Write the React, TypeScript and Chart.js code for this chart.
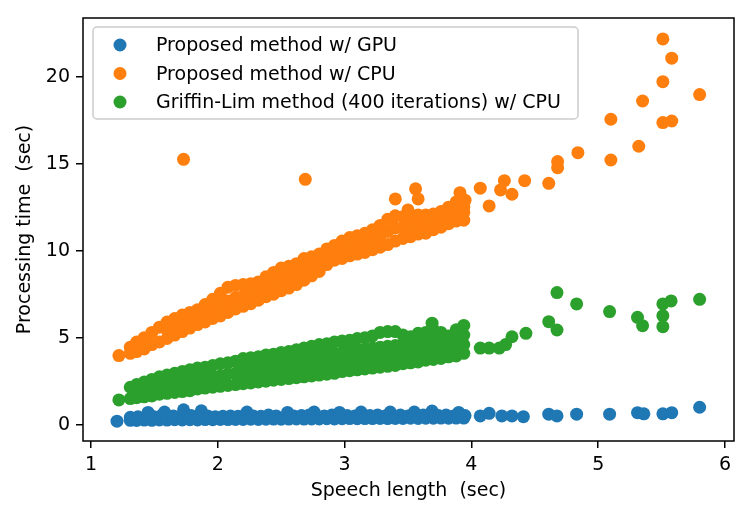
import React, { useEffect, useRef } from 'react';
import { Chart, ChartOptions, Plugin, registerables } from 'chart.js';

Chart.register(...registerables);

const FONT = '"DejaVu Sans", Verdana, sans-serif';

const seriesLabels = [
  'Proposed method w/ GPU',
  'Proposed method w/ CPU',
  'Griffin-Lim method (400 iterations) w/ CPU',
];
const seriesColors = ['#1f77b4', '#ff7f0e', '#2ca02c'];
const xTicks = [1, 2, 3, 4, 5, 6];
const yTicks = [0, 5, 10, 15, 20];

// [speech length (sec), processing time (sec)]
const gpuPoints: [number, number][] = [
  [1.205, 0.2],
  [1.31, 0.25], [1.31, 0.42], [1.36, 0.24], [1.37, 0.45], [1.42, 0.26], [1.45, 0.7],
  [1.48, 0.25], [1.49, 0.47], [1.54, 0.27], [1.55, 0.5], [1.58, 0.72], [1.6, 0.26],
  [1.66, 0.28], [1.65, 0.5], [1.72, 0.27], [1.73, 0.85], [1.78, 0.28], [1.79, 0.52],
  [1.84, 0.27], [1.87, 0.8], [1.9, 0.29], [1.92, 0.5], [1.96, 0.28], [1.98, 0.46],
  [2.02, 0.3], [2.04, 0.48], [2.08, 0.29], [2.1, 0.5], [2.14, 0.3], [2.16, 0.48],
  [2.2, 0.3], [2.23, 0.72], [2.26, 0.31], [2.28, 0.5], [2.32, 0.3], [2.34, 0.48],
  [2.38, 0.31], [2.4, 0.55], [2.44, 0.32], [2.46, 0.5], [2.5, 0.31], [2.55, 0.7],
  [2.56, 0.32], [2.6, 0.5], [2.62, 0.33], [2.66, 0.52], [2.68, 0.32], [2.72, 0.55],
  [2.74, 0.33], [2.76, 0.72], [2.8, 0.33], [2.84, 0.5], [2.86, 0.34], [2.9, 0.55],
  [2.92, 0.33], [2.96, 0.7], [2.98, 0.34], [3.02, 0.52], [3.04, 0.35], [3.08, 0.5],
  [3.1, 0.34], [3.13, 0.72], [3.16, 0.35], [3.2, 0.52], [3.22, 0.35], [3.26, 0.55],
  [3.28, 0.36], [3.32, 0.5], [3.34, 0.35], [3.36, 0.72], [3.4, 0.36], [3.44, 0.55],
  [3.46, 0.36], [3.5, 0.5], [3.52, 0.37], [3.55, 0.72], [3.58, 0.36], [3.62, 0.55],
  [3.64, 0.37], [3.69, 0.78], [3.7, 0.37], [3.74, 0.52], [3.76, 0.38], [3.8, 0.55],
  [3.82, 0.37], [3.86, 0.5], [3.88, 0.38], [3.9, 0.7], [3.94, 0.38], [3.95, 0.52],
  [4.07, 0.5], [4.14, 0.65], [4.24, 0.5], [4.32, 0.5], [4.41, 0.46], [4.61, 0.6],
  [4.675, 0.5], [4.83, 0.6], [5.09, 0.6], [5.31, 0.69], [5.36, 0.62], [5.51, 0.62],
  [5.58, 0.69], [5.8, 1.0],
];

const cpuPoints: [number, number][] = [
  [1.22, 3.97],
  [1.31, 4.1], [1.31, 4.45], [1.36, 4.2], [1.36, 4.75], [1.42, 4.35], [1.42, 5.0],
  [1.48, 4.6], [1.48, 5.3], [1.54, 4.75], [1.54, 5.6],
  [1.6, 4.95], [1.6, 5.45], [1.6, 5.9], [1.66, 5.15], [1.66, 5.65], [1.66, 6.1],
  [1.72, 5.35], [1.72, 5.8], [1.72, 6.3], [1.78, 5.55], [1.78, 6.0], [1.78, 6.45],
  [1.84, 5.75], [1.84, 6.2], [1.84, 6.6], [1.9, 5.9], [1.9, 6.4], [1.9, 6.9],
  [1.96, 6.1], [1.96, 6.6], [1.96, 7.2], [2.02, 6.25], [2.02, 6.85], [2.02, 7.55],
  [2.08, 6.45], [2.08, 7.1], [2.08, 7.9], [2.14, 6.65], [2.14, 7.3], [2.14, 8.0],
  [2.2, 6.8], [2.2, 7.4], [2.2, 8.05], [2.26, 6.95], [2.26, 7.55], [2.26, 8.1],
  [2.32, 7.15], [2.32, 7.7], [2.32, 8.2], [2.38, 7.35], [2.38, 7.9], [2.38, 8.5],
  [2.44, 7.5], [2.44, 8.1], [2.44, 8.75], [2.5, 7.7], [2.5, 8.35], [2.5, 9.0],
  [2.56, 7.85], [2.56, 8.5], [2.56, 9.1], [2.62, 8.05], [2.62, 8.7], [2.62, 9.25],
  [2.68, 8.3], [2.68, 8.9], [2.68, 9.55], [2.74, 8.55], [2.74, 9.1], [2.74, 9.65],
  [2.8, 8.8], [2.8, 9.3], [2.8, 9.8], [2.86, 9.2], [2.86, 9.7], [2.86, 10.1],
  [2.92, 9.45], [2.92, 9.9], [2.92, 10.3], [2.98, 9.55], [2.98, 10.1], [2.98, 10.55],
  [3.04, 9.7], [3.04, 10.3], [3.04, 10.75], [3.1, 9.8], [3.1, 10.35], [3.1, 10.85],
  [3.16, 9.9], [3.16, 10.5], [3.16, 11.0], [3.22, 10.05], [3.22, 10.6], [3.22, 11.2],
  [3.28, 10.2], [3.28, 10.85], [3.28, 11.45], [3.34, 10.35], [3.34, 11.1], [3.34, 11.8],
  [3.4, 10.55], [3.4, 11.3], [3.4, 12.0], [3.46, 10.7], [3.46, 11.35], [3.46, 11.95],
  [3.52, 10.8], [3.52, 11.4], [3.52, 12.0], [3.58, 10.95], [3.58, 11.5], [3.58, 12.05],
  [3.64, 11.0], [3.64, 11.6], [3.64, 12.05], [3.7, 11.2], [3.7, 11.7], [3.7, 12.1],
  [3.76, 11.35], [3.76, 11.85], [3.76, 12.25], [3.82, 11.55], [3.82, 12.1], [3.82, 12.5],
  [3.88, 11.7], [3.88, 12.2], [3.88, 12.8], [3.94, 11.75], [3.94, 12.2], [3.94, 12.5],
  [3.95, 12.9],
  [1.73, 15.25], [2.69, 14.1], [3.4, 12.97], [3.5, 12.34], [3.56, 13.55], [3.58, 12.97],
  [3.91, 13.33], [4.07, 13.59], [4.14, 12.57], [4.23, 13.49], [4.26, 14.02], [4.32, 13.24],
  [4.42, 14.02], [4.61, 13.87], [4.68, 14.77], [4.68, 15.12], [4.84, 15.63], [5.1, 15.21],
  [5.1, 17.55], [5.32, 16.0], [5.35, 18.6], [5.51, 17.36], [5.58, 17.45], [5.51, 19.71],
  [5.51, 22.17], [5.58, 21.06], [5.8, 18.97],
];

const glPoints: [number, number][] = [
  [1.22, 1.42],
  [1.31, 1.5], [1.31, 2.15], [1.36, 1.55], [1.36, 2.0], [1.36, 2.3],
  [1.42, 1.6], [1.42, 2.05], [1.42, 2.45], [1.48, 1.65], [1.48, 2.15], [1.48, 2.6],
  [1.54, 1.75], [1.54, 2.25], [1.54, 2.75], [1.6, 1.8], [1.6, 2.3], [1.6, 2.85],
  [1.66, 1.85], [1.66, 2.4], [1.66, 2.95], [1.72, 1.9], [1.72, 2.45], [1.72, 3.05],
  [1.78, 1.95], [1.78, 2.5], [1.78, 3.15], [1.84, 2.05], [1.84, 2.6], [1.84, 3.25],
  [1.9, 2.1], [1.9, 2.7], [1.9, 3.3], [1.96, 2.15], [1.96, 2.75], [1.96, 3.4],
  [2.02, 2.2], [2.02, 2.8], [2.02, 3.5], [2.08, 2.25], [2.08, 2.9], [2.08, 3.55],
  [2.14, 2.3], [2.14, 2.95], [2.14, 3.65],
  [2.2, 2.35], [2.2, 2.85], [2.2, 3.35], [2.2, 3.8], [2.26, 2.4], [2.26, 2.9], [2.26, 3.4], [2.26, 3.85],
  [2.32, 2.45], [2.32, 2.95], [2.32, 3.45], [2.32, 3.9], [2.38, 2.5], [2.38, 3.0], [2.38, 3.5], [2.38, 4.0],
  [2.44, 2.55], [2.44, 3.05], [2.44, 3.6], [2.44, 4.05], [2.5, 2.6], [2.5, 3.1], [2.5, 3.65], [2.5, 4.15],
  [2.56, 2.65], [2.56, 3.2], [2.56, 3.7], [2.56, 4.2], [2.62, 2.7], [2.62, 3.25], [2.62, 3.8], [2.62, 4.3],
  [2.68, 2.75], [2.68, 3.3], [2.68, 3.85], [2.68, 4.4], [2.74, 2.8], [2.74, 3.35], [2.74, 3.9], [2.74, 4.5],
  [2.8, 2.85], [2.8, 3.4], [2.8, 3.95], [2.8, 4.6], [2.86, 2.9], [2.86, 3.45], [2.86, 4.05], [2.86, 4.65],
  [2.92, 2.95], [2.92, 3.5], [2.92, 4.1], [2.92, 4.75], [2.98, 3.05], [2.98, 3.6], [2.98, 4.15], [2.98, 4.8],
  [3.04, 3.1], [3.04, 3.65], [3.04, 4.25], [3.04, 4.85], [3.1, 3.15], [3.1, 3.7], [3.1, 4.3], [3.1, 4.95],
  [3.16, 3.2], [3.16, 3.75], [3.16, 4.35], [3.16, 5.0], [3.22, 3.25], [3.22, 3.8], [3.22, 4.4], [3.22, 5.1],
  [3.28, 3.3], [3.28, 3.85], [3.28, 4.45], [3.28, 5.3], [3.34, 3.35], [3.34, 3.9], [3.34, 4.5], [3.34, 5.35],
  [3.4, 3.4], [3.4, 3.95], [3.4, 4.55], [3.4, 5.35], [3.46, 3.5], [3.46, 4.05], [3.46, 4.6], [3.46, 5.15],
  [3.52, 3.55], [3.52, 4.1], [3.52, 4.65], [3.52, 5.05], [3.58, 3.6], [3.58, 4.15], [3.58, 4.7], [3.58, 5.25],
  [3.64, 3.7], [3.64, 4.2], [3.64, 4.75], [3.64, 5.3], [3.7, 3.75], [3.7, 4.3], [3.7, 4.85], [3.7, 5.45],
  [3.76, 3.8], [3.76, 4.35], [3.76, 4.9], [3.76, 5.3], [3.82, 3.9], [3.82, 4.4], [3.82, 4.95], [3.82, 5.1],
  [3.88, 3.95], [3.88, 4.5], [3.88, 5.0], [3.88, 5.45], [3.94, 4.1], [3.94, 4.6], [3.94, 5.15], [3.94, 5.7],
  [3.69, 5.83], [4.07, 4.4], [4.14, 4.4], [4.22, 4.4], [4.27, 4.6], [4.32, 5.05], [4.43, 5.25],
  [4.61, 5.92], [4.675, 5.44], [4.675, 7.59], [4.83, 6.94], [5.09, 6.5], [5.31, 6.17],
  [5.35, 5.69], [5.51, 6.94], [5.575, 7.11], [5.51, 6.26], [5.51, 5.63], [5.8, 7.2],
];

const seriesPoints = [gpuPoints, cpuPoints, glPoints];

// matplotlib-style frame around the axes and a legend box inside the plot
const framePlugin: Plugin = {
  id: 'frame',
  afterDraw(chart) {
    const { ctx, chartArea: a } = chart;
    ctx.save();
    ctx.strokeStyle = '#000';
    ctx.lineWidth = 1.5;
    ctx.strokeRect(a.left, a.top, a.right - a.left, a.bottom - a.top);

    const bx = a.left + 10;
    const by = a.top + 9;
    const bw = 485;
    const bh = 92;
    ctx.beginPath();
    ctx.roundRect(bx, by, bw, bh, 4);
    ctx.fillStyle = 'rgba(255,255,255,0.8)';
    ctx.fill();
    ctx.strokeStyle = '#cccccc';
    ctx.lineWidth = 1.5;
    ctx.stroke();

    ctx.font = `19px ${FONT}`;
    ctx.textBaseline = 'alphabetic';
    ctx.textAlign = 'left';
    chart.data.datasets.forEach((ds, i) => {
      const cy = by + 18 + i * 28.5;
      ctx.beginPath();
      ctx.arc(bx + 27, cy, 6.5, 0, Math.PI * 2);
      ctx.fillStyle = seriesColors[i];
      ctx.fill();
      ctx.fillStyle = '#000';
      ctx.fillText(String(ds.label), bx + 63, cy + 6);
    });
    ctx.restore();
  },
};

const App: React.FC = () => {
  const canvasRef = useRef<HTMLCanvasElement>(null);
  const chartRef = useRef<Chart | null>(null);

  useEffect(() => {
    document.body.style.margin = '0';
    const ctx = canvasRef.current?.getContext('2d');
    if (!ctx) return;

    const axisCommon = {
      type: 'linear' as const,
      grid: {
        display: true,
        drawOnChartArea: false,
        drawTicks: true,
        tickLength: 7,
        color: '#000',
        lineWidth: 1.5,
      },
      border: { display: false },
      ticks: {
        color: '#000',
        font: { family: FONT, size: 19 },
        padding: 6,
      },
    };

    const options: ChartOptions<'scatter'> = {
      responsive: false,
      maintainAspectRatio: false,
      animation: false,
      layout: { padding: { left: 0, top: 18, right: 13, bottom: 0 } },
      plugins: {
        legend: { display: false },
        tooltip: { enabled: false },
      },
      scales: {
        x: {
          ...axisCommon,
          position: 'bottom',
          min: 0.937,
          max: 6.071,
          afterBuildTicks: (axis) => {
            axis.ticks = xTicks.map((v) => ({ value: v }));
          },
          afterFit: (axis) => {
            axis.height = 76;
          },
          title: {
            display: true,
            text: 'Speech length  (sec)',
            color: '#000',
            font: { family: FONT, size: 19 },
            padding: { top: 0, bottom: 15 },
          },
        },
        y: {
          ...axisCommon,
          position: 'left',
          min: -0.94,
          max: 23.37,
          afterBuildTicks: (axis) => {
            axis.ticks = yTicks.map((v) => ({ value: v }));
          },
          afterFit: (axis) => {
            axis.width = 83;
          },
          title: {
            display: true,
            text: 'Processing time  (sec)',
            color: '#000',
            font: { family: FONT, size: 19 },
            padding: { top: 14, bottom: 0 },
          },
        },
      },
    };

    chartRef.current?.destroy();
    chartRef.current = new Chart(ctx, {
      type: 'scatter',
      data: {
        datasets: seriesLabels.map((label, i) => ({
          label,
          data: seriesPoints[i].map(([x, y]) => ({ x, y })),
          backgroundColor: seriesColors[i],
          borderWidth: 0,
          pointRadius: 6.5,
          order: 2 - i,
        })),
      },
      options,
      plugins: [framePlugin],
    });

    return () => {
      chartRef.current?.destroy();
      chartRef.current = null;
    };
  }, []);

  return (
    <div style={{ position: 'fixed', left: 0, top: 0, width: 747, height: 517 }}>
      <canvas ref={canvasRef} width={747} height={517} style={{ width: '747px', height: '517px', display: 'block' }} />
    </div>
  );
};

export default App;
